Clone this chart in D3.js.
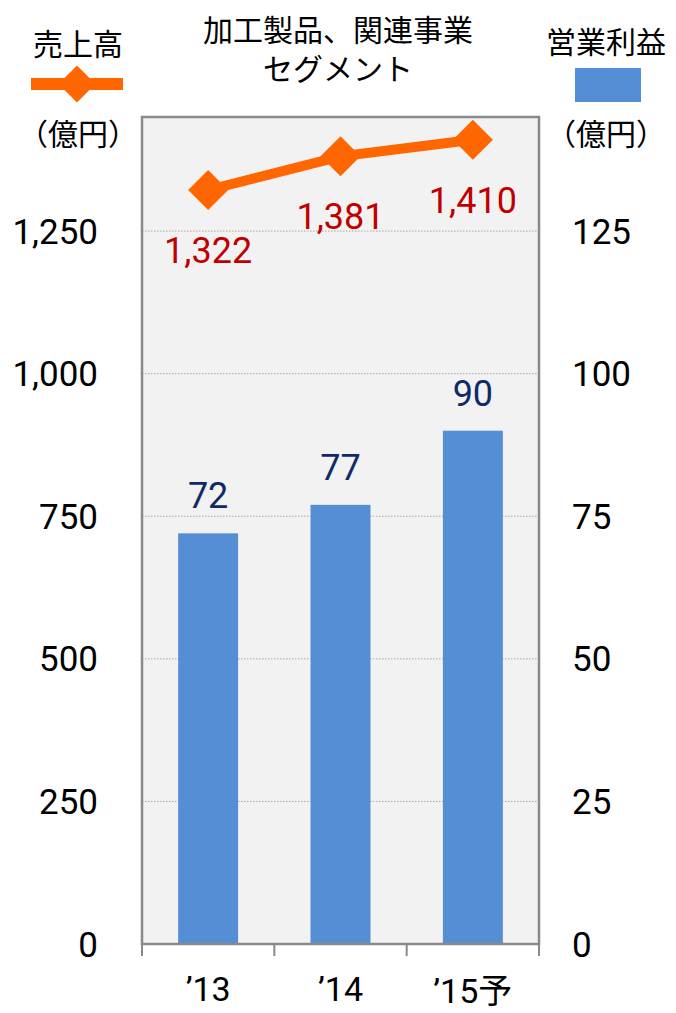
<!DOCTYPE html>
<html>
<head>
<meta charset="utf-8">
<script src="https://cdn.jsdelivr.net/npm/d3@7"></script>
<style>
  body { margin: 0; background: #fff; }
  text { font-family: "Noto Sans CJK JP", "Noto Sans", sans-serif; }
  text.num { font-family: Roboto, "Noto Sans CJK JP", sans-serif; }
</style>
</head>
<body>
<svg id="chart" width="676" height="1013"></svg>
<script>
const years = ["’13", "’14", "’15予"]
const sales = [1322, 1381, 1410]
const profit = [72, 77, 90]
const leftTicks = [0, 250, 500, 750, 1000, 1250]
const rightTicks = [0, 25, 50, 75, 100, 125]

const svg = d3.select("#chart")
const layout = {
    left: 142, right: 539, top: 117, bottom: 944,
    plotBg: "#f2f2f2", frame: "#898989",
    barFill: "#558ed5", lineColor: "#ff6600",
    salesLabel: "#c00000", profitLabel: "#0f2a66"
}

const x = d3.scaleBand().domain(years).range([layout.left, layout.right]).paddingInner(0.547).paddingOuter(0.273)
const xEdge = d3.scaleBand().domain(years).range([layout.left, layout.right])
const yL = d3.scaleLinear().domain([0, 1450]).range([layout.bottom, layout.top])
const yR = d3.scaleLinear().domain([0, 145]).range([layout.bottom, layout.top])

// plot background
svg.append("rect")
    .attr("x", layout.left).attr("y", layout.top)
    .attr("width", layout.right - layout.left).attr("height", layout.bottom - layout.top)
    .attr("fill", layout.plotBg)

// dotted gridlines
svg.append("g").selectAll("line")
    .data(leftTicks.filter(d => d > 0))
    .join("line")
    .attr("x1", layout.left).attr("x2", layout.right)
    .attr("y1", d => yL(d)).attr("y2", d => yL(d))
    .attr("stroke", "#a6a6a6").attr("stroke-width", 1).attr("stroke-dasharray", "1.5,1.5")

// bars
svg.append("g").selectAll("rect")
    .data(profit)
    .join("rect")
    .attr("x", (d, i) => x(years[i]))
    .attr("width", x.bandwidth())
    .attr("y", d => yR(d))
    .attr("height", d => layout.bottom - yR(d))
    .attr("fill", layout.barFill)

svg.append("g").selectAll("text")
    .data(profit)
    .join("text")
    .attr("class", "num")
    .attr("x", (d, i) => x(years[i]) + x.bandwidth() / 2)
    .attr("y", d => yR(d) - 25)
    .attr("text-anchor", "middle")
    .attr("font-size", 36)
    .attr("fill", layout.profitLabel)
    .text(d => d)

// frame
svg.append("rect")
    .attr("x", layout.left).attr("y", layout.top)
    .attr("width", layout.right - layout.left).attr("height", layout.bottom - layout.top)
    .attr("fill", "none").attr("stroke", layout.frame).attr("stroke-width", 2.5)

// x axis ticks
const edges = years.map(d => xEdge(d)).concat([layout.right])
svg.append("g").selectAll("line")
    .data(edges)
    .join("line")
    .attr("x1", d => d).attr("x2", d => d)
    .attr("y1", layout.bottom).attr("y2", layout.bottom + 12)
    .attr("stroke", layout.frame).attr("stroke-width", 2)

svg.append("g").selectAll("text")
    .data(years)
    .join("text")
    .attr("class", "num")
    .attr("x", d => xEdge(d) + xEdge.bandwidth() / 2)
    .attr("y", (d, i) => i == 2 ? 1003 : 1001)
    .attr("text-anchor", "middle")
    .attr("font-size", 34)
    .attr("fill", "#000")
    .text(d => d)

// sales line
const cx = (d, i) => x(years[i]) + x.bandwidth() / 2
const line = d3.line().x(cx).y(d => yL(d))
svg.append("path")
    .datum(sales)
    .attr("d", line)
    .attr("fill", "none")
    .attr("stroke", layout.lineColor)
    .attr("stroke-width", 10)

const diamond = d3.symbol().type(d3.symbolSquare).size(800)
svg.append("g").selectAll("path")
    .data(sales)
    .join("path")
    .attr("d", diamond)
    .attr("transform", (d, i) => `translate(${cx(d, i)},${yL(d)}) rotate(45)`)
    .attr("fill", layout.lineColor)

svg.append("g").selectAll("text")
    .data(sales)
    .join("text")
    .attr("class", "num")
    .attr("x", cx)
    .attr("y", d => yL(d) + 73)
    .attr("text-anchor", "middle")
    .attr("font-size", 36)
    .attr("fill", layout.salesLabel)
    .text(d => d3.format(",")(d))

// axis labels
svg.append("g").selectAll("text")
    .data(leftTicks)
    .join("text")
    .attr("class", "num")
    .attr("x", 98)
    .attr("y", d => yL(d))
    .attr("dy", "0.36em")
    .attr("text-anchor", "end")
    .attr("font-size", 35)
    .text(d => d3.format(",")(d))

svg.append("g").selectAll("text")
    .data(rightTicks)
    .join("text")
    .attr("class", "num")
    .attr("x", 572)
    .attr("y", d => yR(d))
    .attr("dy", "0.36em")
    .attr("text-anchor", "start")
    .attr("font-size", 35)
    .text(d => d)

// headers and legend
const header = svg.append("g").attr("font-size", 30).attr("fill", "#000")
header.append("text").attr("x", 78).attr("y", 55).attr("text-anchor", "middle").text("売上高")
header.append("text").attr("x", 338).attr("y", 41).attr("text-anchor", "middle").text("加工製品、関連事業")
header.append("text").attr("x", 338).attr("y", 80).attr("text-anchor", "middle").text("セグメント")
header.append("text").attr("x", 606).attr("y", 53).attr("text-anchor", "middle").text("営業利益")
header.append("text").attr("x", 78).attr("y", 145).attr("text-anchor", "middle").text("（億円）")
header.append("text").attr("x", 606).attr("y", 145).attr("text-anchor", "middle").text("（億円）")

svg.append("line")
    .attr("x1", 31).attr("x2", 123).attr("y1", 84).attr("y2", 84)
    .attr("stroke", layout.lineColor).attr("stroke-width", 12)
svg.append("path")
    .attr("d", d3.symbol().type(d3.symbolSquare).size(680)())
    .attr("transform", "translate(77,84) rotate(45)")
    .attr("fill", layout.lineColor)
svg.append("rect")
    .attr("x", 575).attr("y", 68).attr("width", 66).attr("height", 34)
    .attr("fill", layout.barFill)
</script>
</body>
</html>
